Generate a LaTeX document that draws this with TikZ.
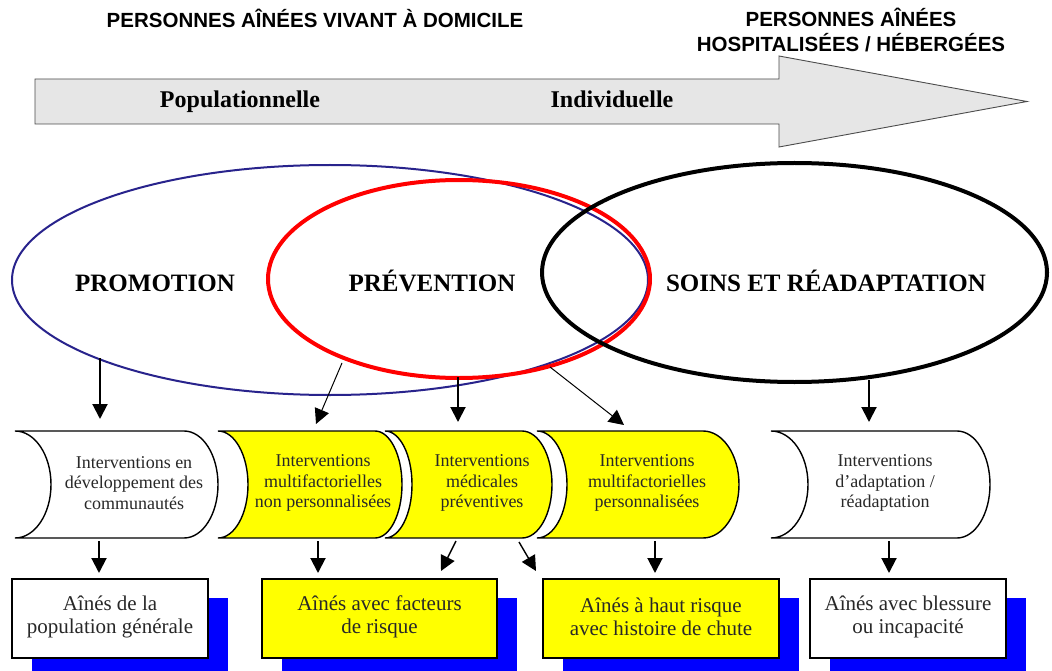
\documentclass[tikz,border=0pt]{standalone}
\usepackage{fontspec}
\setmainfont{Liberation Serif}
\newfontfamily\headfont{Liberation Sans}
\usetikzlibrary{arrows.meta,shapes.geometric}
\definecolor{navy}{RGB}{40,35,140}
\definecolor{ylw}{RGB}{255,255,0}
\definecolor{shadowblue}{RGB}{0,0,255}
\definecolor{arrowgray}{RGB}{230,230,230}
\definecolor{txtgray}{RGB}{40,40,40}
\newcommand\flowshape[5]{%
  \draw[flowline,fill=#5] ({#2-#4},-431) arc[start angle=90,end angle=-90,x radius=#4pt,y radius=53.5pt]
    -- (#1,-538) arc[start angle=-90,end angle=90,x radius=#3pt,y radius=53.5pt] -- cycle;}
\newcommand\shadowbox[5]{%
  \fill[shadowblue] ({#1+20},-598) rectangle ({#2+20},-690);
  \draw[boxline,fill=#3] (#1,-579) rectangle (#2,-658);
  \node[boxtext] (#4) at ({(#1+#2)/2},-617) {#5};}
\begin{document}
\begin{tikzpicture}[x=1pt,y=1pt,
  heavy/.style={line width=2pt,-{Triangle[length=15pt,width=15pt]}},
  light/.style={line width=1pt,-{Triangle[length=15pt,width=15pt]}},
  mid/.style={line width=1.4pt,-{Triangle[length=15pt,width=15pt]}},
  flowline/.style={draw=black,line width=1.4pt},
  boxline/.style={draw=black,line width=1.4pt},
  flowtext/.style={align=center,text=txtgray,font=\fontsize{18}{20.5}\selectfont},
  boxtext/.style={align=center,text=txtgray,font=\fontsize{21}{23}\selectfont},
  headtext/.style={anchor=base,font=\headfont\bfseries\fontsize{20.5}{24}\selectfont},
  bigtext/.style={anchor=base,font=\bfseries\fontsize{25}{28}\selectfont},
  arrowtext/.style={anchor=base,font=\bfseries\fontsize{24}{28}\selectfont}]
\clip (0,0) rectangle (1052,-671);
\fill[white] (0,0) rectangle (1052,-671);
% headings
\node[headtext] (h1) at (315,-27.5) {PERSONNES AÎNÉES VIVANT À DOMICILE};
\node[headtext] (h2) at (851,-26.5) {PERSONNES AÎNÉES};
\node[headtext] (h3) at (851,-51.5) {HOSPITALISÉES / HÉBERGÉES};
% big arrow
\draw[fill=arrowgray,draw=gray!60!black,line width=0.9pt]
  (35,-79) -- (779,-79) -- (779,-56) -- (1027,-101.5) -- (779,-147) -- (779,-124) -- (35,-124) -- cycle;
\node[arrowtext] (pop) at (240,-108) {Populationnelle};
\node[arrowtext] (ind) at (612,-108) {Individuelle};
% ellipses
\node[draw=navy,line width=2pt,ellipse,minimum width=636pt,minimum height=230pt,inner sep=0pt] (promo) at (330,-280) {};
\node[draw=red,line width=4pt,ellipse,minimum width=382pt,minimum height=198pt,inner sep=0pt] (prev) at (459,-279) {};
\node[draw=black,line width=4pt,ellipse,minimum width=505pt,minimum height=219pt,inner sep=0pt] (soins) at (794.5,-272.5) {};
\node[bigtext] (lpromo) at (155,-291.5) {PROMOTION};
\node[bigtext] (lprev) at (432,-291.5) {PRÉVENTION};
\node[bigtext] (lsoins) at (826,-291.5) {SOINS ET RÉADAPTATION};
% flow shapes
\flowshape{15}{218}{36}{34}{white}
\flowshape{218}{402}{30}{27}{ylw}
\flowshape{385}{552}{27}{30}{ylw}
\flowshape{537}{739}{30}{36}{ylw}
\flowshape{771}{990}{37}{33}{white}
\node[flowtext] (s1) at (134,-483) {Interventions en\\développement des\\communautés};
\node[flowtext] (s2) at (323,-483) {Interventions\\multifactorielles\\non personnalisées};
\node[flowtext] (s3) at (482,-483) {Interventions\\médicales\\préventives};
\node[flowtext] (s4) at (647,-483) {Interventions\\multifactorielles\\personnalisées};
\node[flowtext] (s5) at (885,-483) {Interventions\\d’adaptation /\\réadaptation};
% boxes
\shadowbox{12}{208}{white}{b1}{Aînés de la\\population générale}
\shadowbox{262}{497}{ylw}{b2}{Aînés avec facteurs\\de risque}
\shadowbox{543}{779}{ylw}{b3}{Aînés à haut risque\\avec histoire de chute}
\shadowbox{810}{1006}{white}{b4}{Aînés avec blessure\\ou incapacité}
% connector endpoints
\coordinate (e1) at (100,-358);  \coordinate (t1) at (100,-419);
\coordinate (e2) at (342,-363);  \coordinate (t2) at (316,-424);
\coordinate (e3) at (458,-377);  \coordinate (t3) at (458,-422);
\coordinate (e4) at (550,-367);  \coordinate (t4) at (624,-425);
\coordinate (e5) at (869,-380);  \coordinate (t5) at (869,-422);
\coordinate (f1) at (99,-541);   \coordinate (g1) at (99,-573);
\coordinate (f2) at (318,-541);  \coordinate (g2) at (318,-573);
\coordinate (f3) at (456,-541);  \coordinate (g3) at (441,-571);
\coordinate (f4) at (519,-542);  \coordinate (g4) at (536,-571);
\coordinate (f5) at (655,-541);  \coordinate (g5) at (655,-573);
\coordinate (f6) at (889,-541);  \coordinate (g6) at (889,-573);
\draw[heavy] (e1) -- (t1);
\draw[light] (e2) -- (t2);
\draw[heavy] (e3) -- (t3);
\draw[light] (e4) -- (t4);
\draw[heavy] (e5) -- (t5);
\draw[heavy] (f1) -- (g1);
\draw[heavy] (f2) -- (g2);
\draw[mid] (f3) -- (g3);
\draw[mid] (f4) -- (g4);
\draw[heavy] (f5) -- (g5);
\draw[heavy] (f6) -- (g6);
\end{tikzpicture}
\end{document}
